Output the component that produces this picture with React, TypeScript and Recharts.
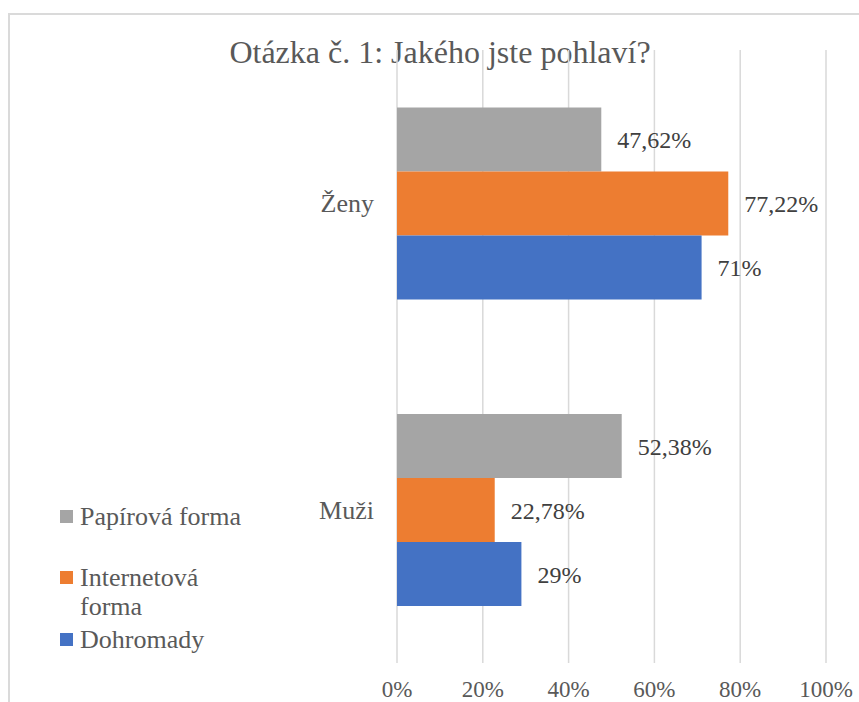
import React from 'react';
import { BarChart, Bar, XAxis, YAxis, CartesianGrid, LabelList, Legend } from 'recharts';

const categories = ['Ženy', 'Muži'];
const papirova = [47.62, 52.38];
const internetova = [77.22, 22.78];
const dohromady = [71, 29];
const xTicks = [0, 20, 40, 60, 80, 100];
const seriesNames = ['Papírová forma', 'Internetová forma', 'Dohromady'];
const seriesKeys = ['papirova', 'internetova', 'dohromady'];
const seriesColors = ['#A5A5A5', '#ED7D31', '#4472C4'];
const title = 'Otázka č. 1: Jakého jste pohlaví?';

const data = categories.map((name, i) => ({
  name,
  papirova: papirova[i],
  internetova: internetova[i],
  dohromady: dohromady[i],
}));

const FONT = '"Liberation Serif", "Times New Roman", serif';
const fmtPct = (v: any) => String(v).replace('.', ',') + '%';

const legendTops = [0, 61, 123];

const LegendContent = () => {
  return (
    <div style={{ position: 'relative', width: 260, height: 200 }}>
      {seriesNames.map((n, i) => (
        <div key={n} style={{ position: 'absolute', left: 0, top: legendTops[i], display: 'flex', alignItems: 'flex-start' }}>
          <div style={{ width: 13, height: 13, marginTop: 8, background: seriesColors[i], flex: 'none' }} />
          <div style={{ marginLeft: 7, width: 170, fontFamily: FONT, fontSize: 26, lineHeight: '29px', color: '#595959' }}>{n}</div>
        </div>
      ))}
    </div>
  );
};

export default function App() {
  return (
    <div style={{ position: 'fixed', left: 0, top: 0, width: 859, height: 702, overflow: 'hidden', background: '#fff' }}>
      <div style={{ position: 'absolute', left: 8, top: 13, width: 900, height: 800, border: '2px solid #DADADA' }} />
      <div style={{ position: 'absolute', left: 140, top: 36, width: 600, textAlign: 'center', fontFamily: FONT, fontSize: 32, lineHeight: '32px', color: '#595959', whiteSpace: 'nowrap' }}>{title}</div>
      <div style={{ position: 'absolute', left: 9, top: 15 }}>
        <BarChart
          width={850}
          height={687}
          data={data}
          layout="vertical"
          margin={{ top: 35, right: 33, left: 288, bottom: 0 }}
          barCategoryGap="18.8%"
          barGap={0}
        >
          <CartesianGrid horizontal={false} vertical={true} stroke="#D9D9D9" strokeWidth={1.5} />
          <XAxis
            type="number"
            domain={[0, 100]}
            ticks={xTicks}
            tickFormatter={(v: number) => v + '%'}
            axisLine={false}
            tickLine={false}
            tickSize={0}
            tickMargin={18}
            height={39}
            interval={0}
            tick={{ fontFamily: FONT, fontSize: 23, fill: '#595959' }}
          />
          <YAxis
            type="category"
            dataKey="name"
            width={100}
            axisLine={false}
            tickLine={false}
            tickSize={0}
            tickMargin={23}
            tick={{ fontFamily: FONT, fontSize: 26, fill: '#595959' }}
          />
          <Legend
            layout="horizontal"
            align="center"
            verticalAlign="middle"
            wrapperStyle={{ left: 51, top: 487, width: 260 }}
            content={LegendContent}
          />
          {seriesKeys.map((k, i) => (
            <Bar key={k} dataKey={k} name={seriesNames[i]} fill={seriesColors[i]} isAnimationActive={false}>
              <LabelList
                dataKey={k}
                position="right"
                offset={16}
                formatter={fmtPct}
                style={{ fontFamily: FONT, fontSize: 24, fill: '#404040' }}
              />
            </Bar>
          ))}
        </BarChart>
      </div>
    </div>
  );
}
